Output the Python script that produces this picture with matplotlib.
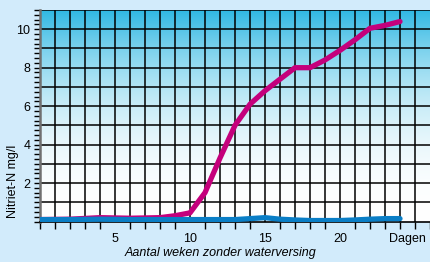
import matplotlib.pyplot as plt
import numpy as np
from matplotlib.ticker import MultipleLocator, FixedLocator

weeks = [0, 2, 4, 6, 8, 9, 10, 11, 12, 13, 14, 15, 16, 17, 18, 19, 20, 21, 22, 23, 24]
nitriet_zonder = [0.1, 0.12, 0.2, 0.17, 0.2, 0.3, 0.45, 1.5, 3.3, 5.0, 6.1, 6.8, 7.4, 8.0, 8.0, 8.4, 8.9, 9.45, 10.05, 10.2, 10.4]
nitriet_met = [0.1, 0.1, 0.12, 0.1, 0.1, 0.1, 0.1, 0.1, 0.1, 0.1, 0.15, 0.2, 0.12, 0.08, 0.05, 0.05, 0.05, 0.08, 0.12, 0.15, 0.15]
xtick_pos = [5, 10, 15, 20, 24.5]
xtick_labels = ["5", "10", "15", "20", "Dagen"]
ytick_pos = [2, 4, 6, 8, 10]

plt.rcParams['font.family'] = ['Liberation Sans Narrow', 'Liberation Sans', 'DejaVu Sans']

fig = plt.figure(figsize=(4.3, 2.62), dpi=100)
fig.patch.set_facecolor('#d2ebfb')
ax = fig.add_axes([40 / 430, 1 - 221.5 / 262, 1 - 40 / 430, (221.5 - 10) / 262])

# gradient background: blue at top, fading to white toward the bottom
grad = np.linspace(0, 1, 256).reshape(-1, 1)
top = np.array([0.18, 0.72, 0.89])
white = np.array([1.0, 1.0, 1.0])
t = grad ** 2.2
colors = white * (1 - t[..., None]) + top * t[..., None]
ax.imshow(colors, extent=[0, 26, 0, 11], aspect='auto', origin='lower', zorder=0)

ax.set_xlim(0, 26)
ax.set_ylim(0, 11)

# grid at every unit
for xv in range(1, 26):
    ax.axvline(xv, color='black', lw=1.1, zorder=1)
for yv in range(1, 12):
    ax.axhline(yv, color='black', lw=1.1, zorder=1)

ax.plot(weeks, nitriet_zonder, color='#c4007c', lw=3.8, solid_capstyle='round', zorder=3)
ax.plot(weeks, nitriet_met, color='#0a7ec6', lw=3.8, solid_capstyle='round', zorder=4)

for s in ['top', 'right']:
    ax.spines[s].set_visible(False)
ax.spines['left'].set_color('#707070')
ax.spines['left'].set_linewidth(1.8)
ax.spines['bottom'].set_color('black')
ax.spines['bottom'].set_linewidth(1.2)

ax.yaxis.set_major_locator(FixedLocator(ytick_pos))
ax.yaxis.set_minor_locator(MultipleLocator(0.25))
ax.set_yticklabels([str(v) for v in ytick_pos], fontsize=9)
ax.tick_params(axis='y', which='both', direction='out', length=4, width=1, color='black', pad=3)

ax.xaxis.set_minor_locator(MultipleLocator(1))
ax.xaxis.set_major_locator(FixedLocator(xtick_pos))
ax.set_xticklabels(xtick_labels, fontsize=9)
ax.tick_params(axis='x', which='major', direction='out', length=0, pad=8)
ax.tick_params(axis='x', which='minor', direction='out', length=5, width=1, color='black')

ax.set_ylabel('Nitriet-N mg/l', fontsize=9)
ax.yaxis.set_label_coords(-21 / 390, 0.19)
ax.set_xlabel('Aantal weken zonder waterversing', fontsize=9, style='italic', labelpad=2, x=(220 - 40) / 390)

fig.savefig('out.png', dpi=100, facecolor=fig.get_facecolor())
